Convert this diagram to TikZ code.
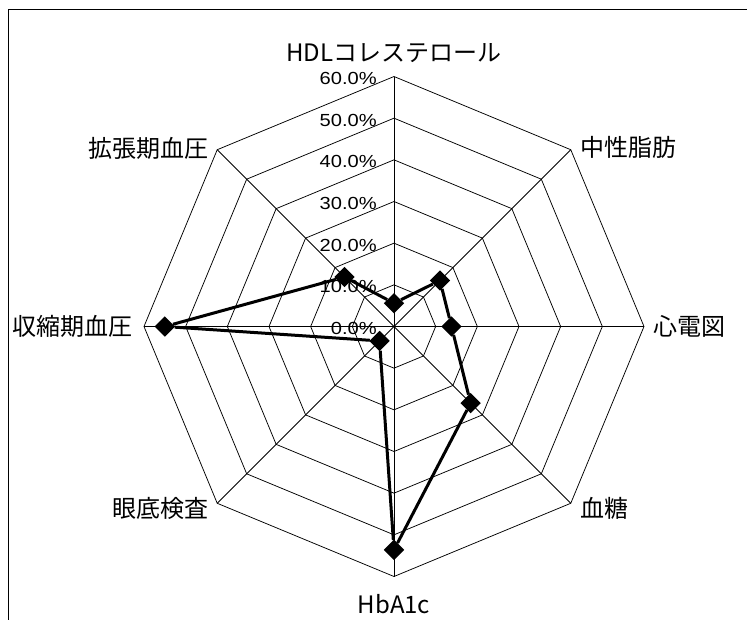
\documentclass[tikz,border=0pt]{standalone}
\usepackage{fontspec}
\setmainfont{Noto Sans CJK JP}
\newfontfamily\tickfont[FakeStretch=1.15]{Liberation Sans}
\usepackage{tikz}
\usetikzlibrary{shapes.geometric}

\begin{document}
\begin{tikzpicture}[x=4.1667bp,y=4.1667bp]
            \useasboundingbox (-94.56,-70.2) rectangle (84.72,78.36);
            \draw [line width=1bp] (-92.4,-71) -- (-92.4,76.2) -- (85.5,76.2);

            % grid
            \begin{scope}[line width=0.75bp]
                \draw (90:10) -- (45:10) -- (0:10) -- (-45:10) -- (-90:10) -- (-135:10) -- (180:10) -- (135:10) -- cycle;
                \draw (90:20) -- (45:20) -- (0:20) -- (-45:20) -- (-90:20) -- (-135:20) -- (180:20) -- (135:20) -- cycle;
                \draw (90:30) -- (45:30) -- (0:30) -- (-45:30) -- (-90:30) -- (-135:30) -- (180:30) -- (135:30) -- cycle;
                \draw (90:40) -- (45:40) -- (0:40) -- (-45:40) -- (-90:40) -- (-135:40) -- (180:40) -- (135:40) -- cycle;
                \draw (90:50) -- (45:50) -- (0:50) -- (-45:50) -- (-90:50) -- (-135:50) -- (180:50) -- (135:50) -- cycle;
                \draw (90:60) -- (45:60) -- (0:60) -- (-45:60) -- (-90:60) -- (-135:60) -- (180:60) -- (135:60) -- cycle;
                \draw (90:60) -- (-90:60);
                \draw (45:60) -- (-135:60);
                \draw (0:60) -- (180:60);
                \draw (135:60) -- (-45:60);
            \end{scope}

            \begin{scope}[every node/.style={anchor=east,inner sep=0pt,
                          font=\tickfont\fontsize{17.5bp}{20bp}\selectfont}]
                \node (t0) at (-4.08,-0.5) {0.0\%};
                \node (t1) at (-4.08,9.5) {10.0\%};
                \node (t2) at (-4.08,19.5) {20.0\%};
                \node (t3) at (-4.08,29.5) {30.0\%};
                \node (t4) at (-4.08,39.5) {40.0\%};
                \node (t5) at (-4.08,49.5) {50.0\%};
                \node (t6) at (-4.08,59.5) {60.0\%};
            \end{scope}

            \begin{scope}[every node/.style={inner sep=0pt,
                          font=\fontsize{24bp}{28bp}\selectfont}]
                \node (lhdl) at (0,65.6) {HDLコレステロール};
                \node [anchor=west] (ltg) at (44.7,43.0) {中性脂肪};
                \node [anchor=west] (lecg) at (62.2,0) {心電図};
                \node [anchor=west] (lbs) at (44.7,-43.6) {血糖};
                \node (lhba) at (0,-66.6) {HbA1c};
                \node [anchor=east] (lfundus) at (-44.4,-43.6) {眼底検査};
                \node [anchor=east] (lsbp) at (-62.6,0) {収縮期血圧};
                \node [anchor=east] (ldbp) at (-44.4,42.8) {拡張期血圧};
            \end{scope}

            \begin{scope}[every node/.style={diamond,fill=black,inner sep=0pt,minimum size=20.5bp}]
                \node (hdl) at (90:5.6) {};
                \node (tg) at (45:15.6) {};
                \node (ecg) at (0:13.8) {};
                \node (bs) at (-45:26.0) {};
                \node (hba) at (-90:53.6) {};
                \node (fundus) at (-135:4.9) {};
                \node (sbp) at (180:55.0) {};
                \node (dbp) at (135:16.8) {};
            \end{scope}

            \begin{scope}[every edge/.style={draw=black,line width=3bp}]
                \path [-] (hdl) edge (tg);
                \path [-] (tg) edge (ecg);
                \path [-] (ecg) edge (bs);
                \path [-] (bs) edge (hba);
                \path [-] (hba) edge (fundus);
                \path [-] (fundus) edge (sbp);
                \path [-] (sbp) edge (dbp);
                \path [-] (dbp) edge (hdl);
            \end{scope}
            \end{tikzpicture}
\end{document}
